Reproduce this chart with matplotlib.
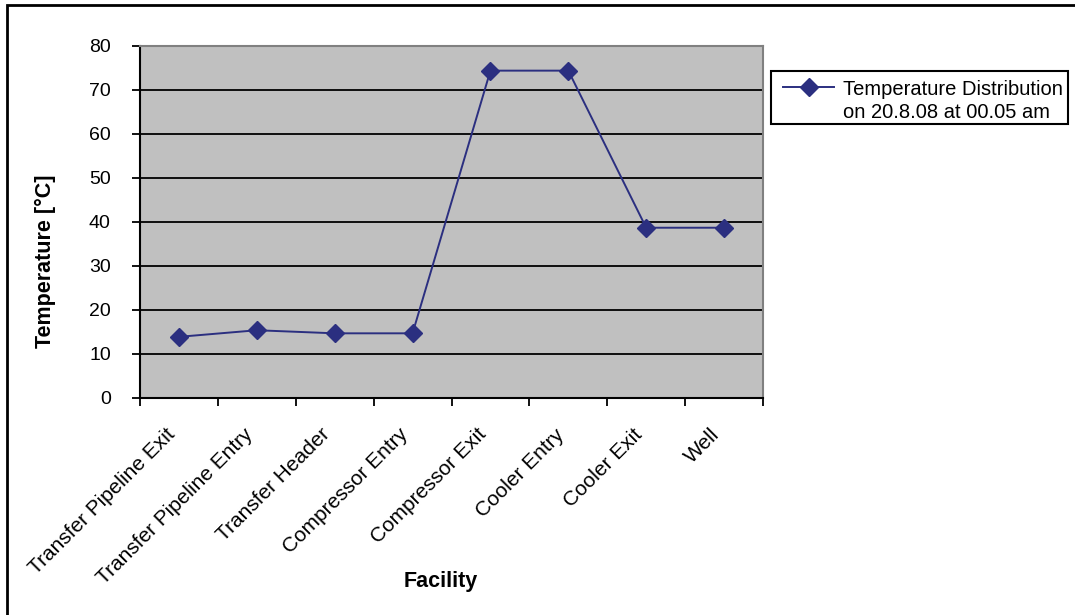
import matplotlib.pyplot as plt
from matplotlib.patches import Rectangle
from matplotlib.lines import Line2D
from matplotlib.transforms import ScaledTranslation

# Datos: temperatura medida en cada instalación
facilities = ['Transfer Pipeline Exit', 'Transfer Pipeline Entry', 'Transfer Header',
              'Compressor Entry', 'Compressor Exit', 'Cooler Entry', 'Cooler Exit', 'Well']
temperatures = [13.9, 15.4, 14.7, 14.7, 74.4, 74.4, 38.7, 38.7]
y_ticks = [0, 10, 20, 30, 40, 50, 60, 70, 80]
series_name = 'Temperature Distribution\non 20.8.08 at 00.05 am'

plt.rcParams['font.family'] = ['Liberation Sans', 'DejaVu Sans']
line_color = '#2B2F80'

W, H = 1075, 615
fig = plt.figure(figsize=(W / 100, H / 100), dpi=100)
ax = fig.add_axes([140 / W, 1 - 398 / H, 623 / W, 352 / H])
ax.set_facecolor('#C0C0C0')

# Marco exterior del gráfico
fig.patches.append(Rectangle((7 / W, -0.1), 1.2, 1 - 5 / H + 0.1, transform=fig.transFigure,
                             fill=False, edgecolor='black', linewidth=2))

x = range(len(facilities))
ax.plot(x, temperatures, color=line_color, linewidth=1.4, marker='D', markersize=9, zorder=3)

ax.set_xlim(-0.5, len(facilities) - 0.5)
ax.set_ylim(0, 80)
ax.set_yticks(y_ticks)
for yv in y_ticks[1:-1]:
    ax.axhline(yv, color='black', linewidth=1.3, zorder=1)

# Marcas del eje x en los límites de cada categoría
ax.set_xticks([i - 0.5 for i in range(len(facilities) + 1)])
ax.set_xticklabels([])
ax.tick_params(axis='x', length=6, width=1.3, direction='out')
ax.tick_params(axis='y', length=6, width=1.3, direction='out', labelsize=14, pad=15)

# Nombres de las instalaciones, girados 45° bajo cada categoría
shift = ScaledTranslation(-0.14, -0.27, fig.dpi_scale_trans)
for i, name in zip(x, facilities):
    ax.text(i, 0, name, transform=ax.get_xaxis_transform() + shift, fontsize=15,
            rotation=45, ha='right', va='top', rotation_mode='anchor')

for side in ['top', 'right']:
    ax.spines[side].set_color('#808080')
    ax.spines[side].set_linewidth(1.5)
for side in ['left', 'bottom']:
    ax.spines[side].set_color('black')
    ax.spines[side].set_linewidth(1.5)

fig.text(45 / W, 1 - 261 / H, 'Temperature [°C]', fontsize=15.5, fontweight='bold',
         rotation=90, ha='center', va='center')
fig.text(441 / W, 1 - 582 / H, 'Facility', fontsize=15.5, fontweight='bold',
         ha='center', va='center')

# Leyenda dibujada a mano: caja, muestra de la serie y texto
fig.patches.append(Rectangle((771 / W, 1 - 124 / H), 297 / W, 53 / H, transform=fig.transFigure,
                             facecolor='white', edgecolor='black', linewidth=1.5))
fig.lines.append(Line2D([783 / W, 834 / W], [1 - 87 / H] * 2, transform=fig.transFigure,
                        color=line_color, linewidth=1.4))
fig.lines.append(Line2D([808.5 / W], [1 - 87 / H], transform=fig.transFigure,
                        color=line_color, marker='D', markersize=9))
fig.text(843 / W, 1 - 101 / H, series_name, fontsize=14.5, ha='left', va='center',
         linespacing=1.3)

fig.savefig('out.png', dpi=100)
